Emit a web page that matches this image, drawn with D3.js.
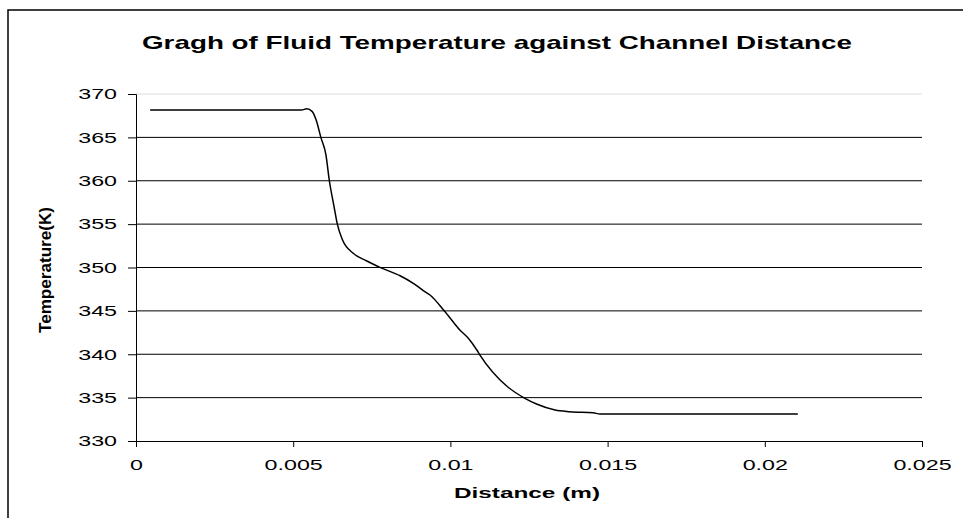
<!DOCTYPE html>
<meta charset="utf-8">
<style>
    body { margin: 0; background: #fff; }
    text { font-family: "Liberation Sans", Arial, sans-serif; }
</style>
<body>
<div id="chart"></div>
<script src="https://cdn.jsdelivr.net/npm/d3@7"></script>
<script>
    var width = 963,
        height = 518

    // distance (m) and fluid temperature (K)
    var distance = [0.00045, 0.00527, 0.00543, 0.0056, 0.00573, 0.00588, 0.00604, 0.00615, 0.0063,
        0.0064, 0.00657, 0.00691, 0.00734, 0.00776, 0.0084, 0.00882, 0.00914, 0.00935, 0.00981,
        0.0103, 0.01057, 0.01084, 0.01094, 0.01179, 0.01237, 0.01274, 0.01333, 0.0138, 0.01454,
        0.01476, 0.02105]
    var temperature = [368.15, 368.15, 368.3, 368.0, 367.0, 365.0, 363.0, 360.0, 357.0,
        355.05, 353.17, 351.64, 350.75, 350.02, 349.05, 348.18, 347.33, 346.83, 344.99,
        342.8, 341.84, 340.49, 339.91, 336.34, 334.92, 334.27, 333.57, 333.38, 333.26,
        333.1, 333.1]

    var xTicks = [0, 0.005, 0.01, 0.015, 0.02, 0.025]
    var yTicks = [330, 335, 340, 345, 350, 355, 360, 365, 370]

    var data = distance.map(function (d, i) {
        return {x: d, y: temperature[i]}
    })

    // the original picture is stretched sideways, so widen the glyphs to match
    function stretch(sel, k) {
        sel.each(function () {
            var t = d3.select(this)
            t.attr("textLength", this.getComputedTextLength() * k)
                .attr("lengthAdjust", "spacingAndGlyphs")
        })
    }

    var svg = d3.select("#chart").append("svg")
        .attr("width", width)
        .attr("height", height);

    // outer frame (left and top edges only are visible)
    svg.append("path")
        .attr("d", "M8," + height + "V10H" + width)
        .attr("fill", "none")
        .attr("stroke", "#000")
        .attr("stroke-width", 1.5);

    var x = d3.scaleLinear().domain([0, 0.025]).range([136, 922])
    var y = d3.scaleLinear().domain([330, 370]).range([441, 94])

    // gridlines
    svg.selectAll(".grid")
        .data(yTicks.slice(1))
        .enter().append("line")
        .attr("class", "grid")
        .attr("x1", x(0))
        .attr("x2", x(0.025))
        .attr("y1", function (d) { return y(d) })
        .attr("y2", function (d) { return y(d) })
        .attr("stroke", function (d) { return d == 370 ? "#ddd" : "#000" })
        .attr("stroke-width", 1);

    var yAxis = svg.append("g")
        .attr("transform", "translate(" + x(0) + ",0)")
        .call(d3.axisLeft(y).tickValues(yTicks).tickSize(8).tickPadding(11).tickFormat(d3.format("d")))
    var xAxis = svg.append("g")
        .attr("transform", "translate(0," + y(330) + ")")
        .call(d3.axisBottom(x).tickValues(xTicks).tickSize(6).tickPadding(12)
            .tickFormat(function (d) { return d == 0 ? "0" : String(+d.toFixed(3)) }))

    svg.selectAll(".domain").attr("stroke", "#000")
    svg.selectAll(".tick line").attr("stroke", "#000")
    svg.selectAll(".tick text")
        .attr("fill", "#000")
        .style("font-family", "'Liberation Sans', Arial, sans-serif")
        .style("font-size", "15px")
        .call(stretch, 1.55);

    var line = d3.line()
        .x(function (d) { return x(d.x) })
        .y(function (d) { return y(d.y) })
        .curve(d3.curveMonotoneX)

    svg.append("path")
        .datum(data)
        .attr("d", line)
        .attr("fill", "none")
        .attr("stroke", "#000")
        .attr("stroke-width", 1.5);

    svg.append("text")
        .attr("x", 497)
        .attr("y", 49)
        .attr("text-anchor", "middle")
        .style("font-weight", "bold")
        .style("font-size", "19px")
        .text("Gragh of Fluid Temperature against Channel Distance")
        .attr("textLength", 710)
        .attr("lengthAdjust", "spacingAndGlyphs");

    svg.append("text")
        .attr("x", 527)
        .attr("y", 498)
        .attr("text-anchor", "middle")
        .style("font-weight", "bold")
        .style("font-size", "15px")
        .text("Distance (m)")
        .attr("textLength", 146)
        .attr("lengthAdjust", "spacingAndGlyphs");

    svg.append("text")
        .attr("transform", "translate(51,270) rotate(-90)")
        .attr("text-anchor", "middle")
        .style("font-weight", "bold")
        .style("font-size", "16px")
        .text("Temperature(K)")
        .attr("textLength", 126)
        .attr("lengthAdjust", "spacingAndGlyphs");
</script>
</body>
